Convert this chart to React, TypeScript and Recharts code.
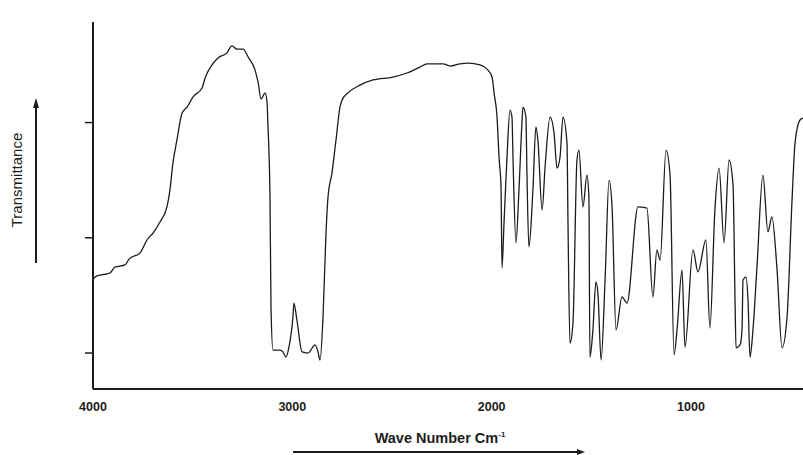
import React from 'react';
import { LineChart, Line, XAxis, YAxis, Label } from 'recharts';

// wavenumber (cm-1), left to right
const wavenumbers = [
  4000, 3980, 3915, 3890, 3839, 3819, 3764, 3729, 3699, 3664, 3629, 3614, 3599, 3579, 3553, 3528,
  3498, 3453, 3438, 3403, 3373, 3328, 3303, 3278, 3247, 3222, 3187, 3172, 3157, 3137, 3127, 3122,
  3112, 3107, 3097, 3062, 3047, 3032, 3017, 2997, 2992, 2977, 2951, 2921, 2886, 2871, 2861, 2846,
  2831, 2821, 2801, 2781, 2761, 2751, 2721, 2661, 2595, 2495, 2425, 2360, 2324, 2244, 2209, 2159,
  2119, 2058, 2018, 1998, 1988, 1973, 1963, 1953, 1948, 1938, 1923, 1908, 1898, 1893, 1878, 1863,
  1848, 1843, 1828, 1823, 1813, 1793, 1778, 1768, 1747, 1732, 1707, 1687, 1672, 1657, 1642, 1622,
  1617, 1607, 1592, 1572, 1562, 1542, 1522, 1512, 1507, 1492, 1477, 1467, 1451, 1431, 1411, 1396,
  1376, 1346, 1321, 1266, 1221, 1191, 1171, 1155, 1125, 1105, 1085, 1070, 1045, 1030, 990, 965,
  925, 905, 880, 859, 834, 809, 789, 779, 774, 754, 744, 739, 724, 714, 704, 689, 669, 639, 614,
  594, 569, 543, 518, 493, 478, 453, 438,
];

// transmittance (arbitrary %), same order
const transmittance = [
  30.0, 30.8, 31.6, 33.2, 33.8, 35.4, 37.1, 40.6, 42.5, 45.5, 49.6, 54.2, 61.6, 67.8, 75.2, 76.8,
  79.6, 82.0, 84.7, 88.3, 90.2, 91.6, 93.5, 92.6, 92.6, 90.5, 86.9, 83.7, 79.0, 80.7, 78.2, 71.4,
  52.3, 22.3, 10.6, 10.6, 10.1, 8.7, 11.4, 19.6, 23.4, 18.8, 10.1, 9.8, 12.0, 10.1, 7.9, 19.6,
  42.5, 52.3, 58.9, 67.8, 76.8, 78.7, 80.7, 82.8, 84.2, 85.0, 86.1, 87.7, 88.6, 88.6, 88.0, 88.6,
  88.8, 88.3, 86.9, 85.0, 80.7, 74.1, 63.2, 55.0, 33.0, 45.2, 63.2, 76.0, 74.1, 63.2, 39.8, 54.2,
  72.5, 76.8, 74.1, 58.9, 38.7, 54.2, 71.4, 67.8, 48.8, 60.5, 74.1, 69.8, 60.2, 63.2, 74.1, 67.0,
  45.2, 12.5, 18.0, 62.4, 65.1, 49.6, 58.3, 52.3, 8.7, 16.1, 29.2, 26.2, 7.9, 29.7, 56.9, 49.6,
  16.1, 25.1, 23.4, 49.6, 49.3, 25.1, 37.9, 35.1, 65.1, 58.3, 9.3, 16.1, 32.4, 11.4, 37.9, 31.9,
  40.6, 16.6, 48.8, 60.2, 39.8, 62.4, 55.6, 24.3, 11.2, 12.0, 16.1, 29.7, 30.5, 24.3, 8.7, 16.1,
  33.2, 58.3, 42.8, 46.9, 33.2, 11.2, 19.6, 51.5, 67.0, 73.3, 73.8,
];

const xTicks = [4000, 3000, 2000, 1000];
const yTicks = [9.8, 41.2, 72.6];

const spectrum = wavenumbers.map((w, i) => ({ w, t: transmittance[i] }));

const INK = '#1c1c1c';

const YTitle = (props: any) => {
  const vb = props.viewBox || { x: 0, y: 22 };
  const cx = vb.x + 16;
  const cy = vb.y + 158;
  const ax = vb.x + 36;
  return (
    <g>
      <text
        x={cx}
        y={cy}
        transform={`rotate(-90 ${cx} ${cy})`}
        textAnchor="middle"
        dominantBaseline="central"
        fontFamily="'Liberation Sans', Arial, sans-serif"
        fontSize={15}
        fill={INK}
      >
        Transmittance
      </text>
      <line x1={ax} y1={vb.y + 241} x2={ax} y2={vb.y + 84} stroke={INK} strokeWidth={2} />
      <polygon
        points={`${ax},${vb.y + 76} ${ax - 3},${vb.y + 86} ${ax + 3},${vb.y + 86}`}
        fill={INK}
      />
    </g>
  );
};

const XTitle = (props: any) => {
  const vb = props.viewBox || { x: 93, y: 389 };
  const ay = vb.y + 63;
  const x0 = vb.x + 200;
  const x1 = vb.x + 492;
  return (
    <g>
      <text
        x={vb.x + 347}
        y={vb.y + 54}
        textAnchor="middle"
        fontFamily="'Liberation Sans', Arial, sans-serif"
        fontWeight="bold"
        fontSize={14.5}
        fill={INK}
      >
        Wave Number Cm
        <tspan dy={-6} fontSize={8}>-1</tspan>
      </text>
      <line x1={x0} y1={ay} x2={x1 - 6} y2={ay} stroke={INK} strokeWidth={2} />
      <polygon points={`${x1},${ay} ${x1 - 8},${ay - 3} ${x1 - 8},${ay + 3}`} fill={INK} />
    </g>
  );
};

export default function App() {
  return (
    <div style={{ position: 'absolute', left: 0, top: 0, width: 803, height: 455, background: '#fff' }}>
      <LineChart
        width={803}
        height={455}
        data={spectrum}
        margin={{ top: 22, right: 0, bottom: 36, left: 0 }}
      >
        <XAxis
          dataKey="w"
          type="number"
          domain={[438, 4000]}
          reversed
          allowDataOverflow
          ticks={xTicks}
          interval={0}
          height={30}
          tickLine={false}
          tickSize={6}
          tickMargin={7}
          axisLine={{ stroke: INK, strokeWidth: 2 }}
          tick={{
            fill: INK,
            fontSize: 12.5,
            fontWeight: 'bold',
            fontFamily: "'Liberation Sans', Arial, sans-serif",
          }}
        >
          <Label content={XTitle} />
        </XAxis>
        <YAxis
          type="number"
          domain={[0, 100]}
          ticks={yTicks}
          width={93}
          tickSize={8}
          axisLine={{ stroke: INK, strokeWidth: 2 }}
          tickLine={{ stroke: INK, strokeWidth: 1.5 }}
          tick={() => <g />}
        >
          <Label content={YTitle} />
        </YAxis>
        <Line
          type="monotone"
          dataKey="t"
          stroke={INK}
          strokeWidth={1.3}
          dot={false}
          isAnimationActive={false}
        />
      </LineChart>
    </div>
  );
}
